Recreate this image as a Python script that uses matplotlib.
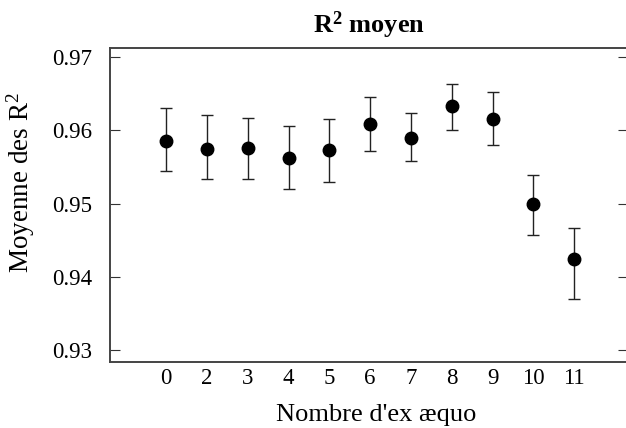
import matplotlib
matplotlib.use('Agg')
import matplotlib.pyplot as plt

plt.rcParams['font.family'] = ['Liberation Serif', 'DejaVu Serif']
plt.rcParams['axes.unicode_minus'] = False
plt.rcParams['mathtext.fontset'] = 'custom'
plt.rcParams['mathtext.rm'] = 'Liberation Serif'
plt.rcParams['mathtext.it'] = 'Liberation Serif:italic'
plt.rcParams['mathtext.bf'] = 'Liberation Serif:bold'

# data
categories = ['0', '2', '3', '4', '5', '6', '7', '8', '9', '10', '11']
means = [0.9585, 0.9575, 0.9576, 0.9562, 0.9573, 0.9608, 0.9589, 0.9633, 0.9615, 0.9499, 0.9424]
upper = [0.9631, 0.9621, 0.9617, 0.9606, 0.9615, 0.9646, 0.9623, 0.9663, 0.9652, 0.9539, 0.9467]
lower = [0.9544, 0.9533, 0.9534, 0.9520, 0.9529, 0.9572, 0.9558, 0.9600, 0.9580, 0.9457, 0.9370]
yticks = [0.93, 0.94, 0.95, 0.96, 0.97]

fig = plt.figure(figsize=(6.26, 4.28), dpi=100)
ax = fig.add_axes([0.1757, 0.154, 0.828, 0.734])

xs = list(range(len(categories)))
err_lo = [m - l for m, l in zip(means, lower)]
err_hi = [u - m for m, u in zip(means, upper)]
ax.errorbar(xs, means, yerr=[err_lo, err_hi], fmt='o', color='black',
            ecolor='#222222', elinewidth=1.0, capsize=4.5, capthick=1.0,
            markersize=9)

ax.set_xlim(-1.38, 11.33)
ax.set_ylim(0.92836, 0.97123)
ax.set_xticks(xs)
ax.set_xticklabels(categories)
ax.set_yticks(yticks)
ax.set_yticklabels(['%.2f' % t for t in yticks])

ax.tick_params(axis='y', direction='in', length=7, width=0.8, pad=13,
               labelsize=16.5, right=True, color='#333333')
ax.tick_params(axis='x', length=0, pad=4, labelsize=16.5)

for side in ['left', 'top', 'bottom']:
    ax.spines[side].set_color('#444444')
    ax.spines[side].set_linewidth(1.4)
ax.spines['right'].set_visible(False)

ax.set_xlabel("Nombre d'ex æquo", fontsize=19)
ax.set_ylabel(r'Moyenne des R$^2$', fontsize=19.5)
ax.xaxis.set_label_coords(0.514, -0.133)
ax.yaxis.set_label_coords(-0.141, 0.573)
ax.set_title(r'R$^{\mathbf{2}}$ moyen', fontsize=19, fontweight='bold', pad=11)

fig.savefig('out.png', dpi=100)
